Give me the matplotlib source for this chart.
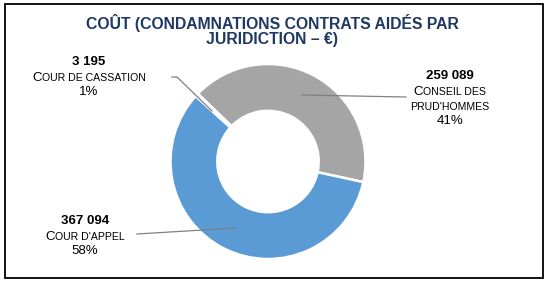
import matplotlib
matplotlib.use("Agg")
from matplotlib import pyplot as plt
from matplotlib.offsetbox import TextArea, HPacker, AnnotationBbox
from matplotlib.patches import Rectangle

# data (euros)
categories = ["Conseil des prud'hommes", "Cour d'appel", "Cour de cassation"]
values = [259089, 367094, 3195]
value_labels = ["259 089", "367 094", "3 195"]
pct_labels = ["41%", "58%", "1%"]
# small caps lines: first letter of the label big, rest small
name_lines = [["CONSEIL DES", "PRUD'HOMMES"], ["COUR D'APPEL"], ["COUR DE CASSATION"]]
colors = ["#A5A5A5", "#5B9BD5", "#FFFFFF"]

title_lines = ["COÛT (CONDAMNATIONS CONTRATS AIDÉS PAR", "JURIDICTION – €)"]

W, H = 550, 284
plt.rcParams['font.family'] = ['Liberation Sans', 'DejaVu Sans']

fig = plt.figure(figsize=(W / 100, H / 100), dpi=100)
ax = fig.add_axes([0, 0, 1, 1])

# frame
fig.patches.append(Rectangle((5 / W, (H - 278) / H), 538 / W, 274 / H, transform=fig.transFigure,
                             fill=False, edgecolor='black', linewidth=1.3))

# title
for i, line in enumerate(title_lines):
    ax.text(272, H - (23.5 + i * 15.7), line, ha='center', va='center', fontsize=11.3,
            fontweight='bold', color='#1F3864')

cx, cy, r = 268, H - 161.5, 97.5
ax.pie(values, colors=colors, startangle=136, counterclock=False, center=(cx, cy), radius=r,
       wedgeprops=dict(width=r * 0.48, edgecolor='white', linewidth=1.8), frame=True)
ax.set_xlim(0, W)
ax.set_ylim(0, H)
ax.set_aspect('equal')
ax.axis('off')


def smallcaps(text, x, y, first, big=9.5, small=7.6):
    parts = []
    if first:
        parts.append(TextArea(text[0], textprops=dict(fontsize=big)))
        text = text[1:]
    parts.append(TextArea(text, textprops=dict(fontsize=small)))
    box = HPacker(children=parts, align="baseline", pad=0, sep=0)
    ab = AnnotationBbox(box, (x, y), xycoords='data', frameon=False, box_alignment=(0.5, 0.5), pad=0)
    ax.add_artist(ab)


# label positions (image coords: x, first line y), line step
label_pos = [(450, 76), (85, 221), (89, 62)]
step = 15
for k in range(3):
    x, y0 = label_pos[k]
    y = y0
    ax.text(x, H - y, value_labels[k], ha='center', va='center', fontsize=9.5, fontweight='bold')
    for j, ln in enumerate(name_lines[k]):
        y += step
        smallcaps(ln, x, H - y - 1, j == 0)
    y += step
    ax.text(x, H - y, pct_labels[k], ha='center', va='center', fontsize=9.5)

# leader lines
lc = '#808080'
ax.plot([302, 406], [H - 95, H - 97], color=lc, lw=0.9)
ax.plot([236, 137], [H - 228, H - 234], color=lc, lw=0.9)
ax.plot([212, 177, 172], [H - 111, H - 77, H - 77], color=lc, lw=0.9)

fig.savefig("out.png", dpi=100)
